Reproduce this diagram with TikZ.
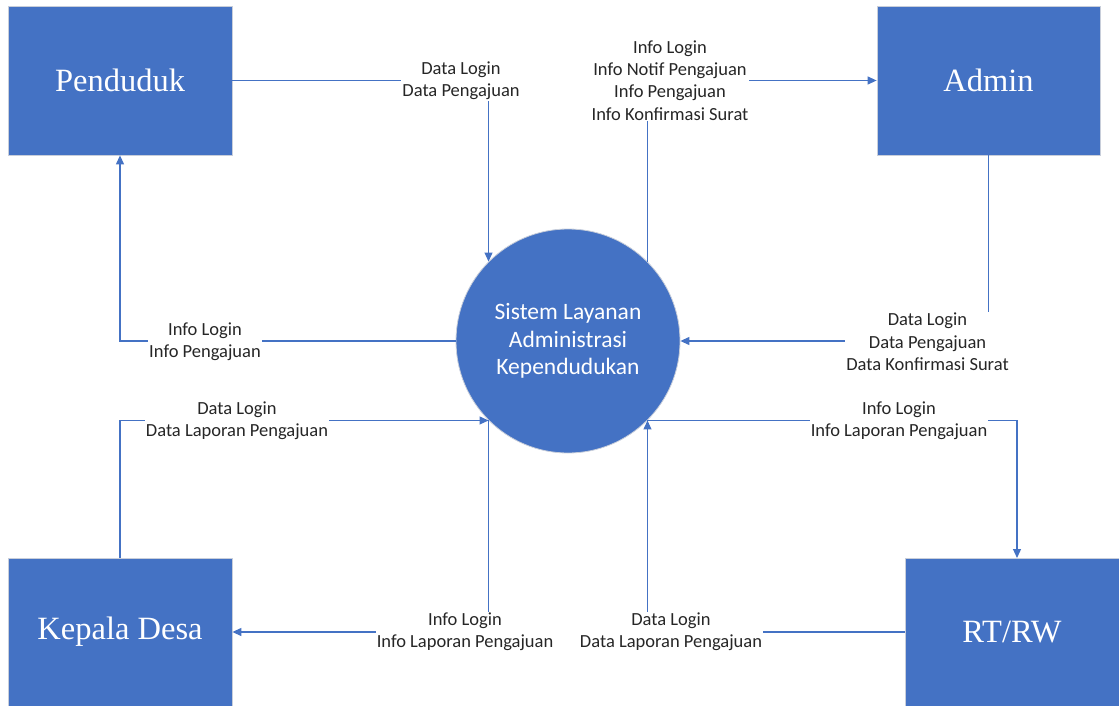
\documentclass[tikz,border=0pt]{standalone}
\usepackage{fontspec}
\setmainfont{Liberation Serif}
\newfontfamily\carl{Carlito}
\usetikzlibrary{arrows.meta}
\definecolor{ofblue}{HTML}{4472C4}
\definecolor{edge}{HTML}{C8CEDA}
\tikzset{
  ent/.style={draw=edge, line width=0.8pt, fill=ofblue, text=white, inner sep=0pt,
    font=\fontsize{32.5}{36}\selectfont},
  proc/.style={circle, draw=edge, line width=0.8pt, fill=ofblue, text=white, inner sep=0pt,
    minimum size=224pt, align=center, font=\carl\fontsize{23.5}{27.5}\selectfont},
  flow/.style={draw=ofblue, line width=1.2pt, -{Triangle[length=9pt,width=8pt]}},
  lbl/.style={fill=white, inner sep=1pt, align=center, text=black!85,
    font=\carl\fontsize{18.5}{22.3}\selectfont}
}
\begin{document}
\begin{tikzpicture}[x=1pt,y=-1pt]
\useasboundingbox (0,0) rectangle (1119,706);
\node[ent, minimum width=224pt, minimum height=149pt] (pen) at (120,80.5) {Penduduk};
\node[ent, minimum width=223pt, minimum height=149pt] (adm) at (988.5,80.5) {Admin};
\node[ent, minimum width=224pt, minimum height=148pt] (kep) at (120,632) {Kepala Desa};
\node[ent, minimum width=214pt, minimum height=148pt] (rt) at (1012,632) {RT/RW};
\node[proc] (sys) at (568,341) {Sistem Layanan\\Administrasi\\Kependudukan};
\coordinate (rtin) at (1017,558);

\draw[flow] (pen.east) -| (sys.135);
\draw[flow] (sys.45) |- (adm.west);
\draw[flow] (adm.south) |- (sys.east);
\draw[flow] (sys.west) -| (pen.south);
\draw[flow] (kep.north) |- (sys.225);
\draw[flow] (sys.225) |- (kep.east);
\draw[flow] (rt.west) -| (sys.315);
\draw[flow] (sys.315) -| (rtin);

\node[lbl] (l1) at (461,81) {Data Login\\Data Pengajuan};
\node[lbl] (l2) at (670,80.5) {Info Login\\Info Notif Pengajuan\\Info Pengajuan\\Info Konfirmasi Surat};
\node[lbl] (l3) at (927.5,342) {Data Login\\Data Pengajuan\\Data Konfirmasi Surat};
\node[lbl] (l4) at (205,342) {Info Login\\Info Pengajuan};
\node[lbl] (l5) at (237,421) {Data Login\\Data Laporan Pengajuan};
\node[lbl] (l6) at (465,632) {Info Login\\Info Laporan Pengajuan};
\node[lbl] (l7) at (671,632) {Data Login\\Data Laporan Pengajuan};
\node[lbl] (l8) at (899,421) {Info Login\\Info Laporan Pengajuan};
\end{tikzpicture}
\end{document}
